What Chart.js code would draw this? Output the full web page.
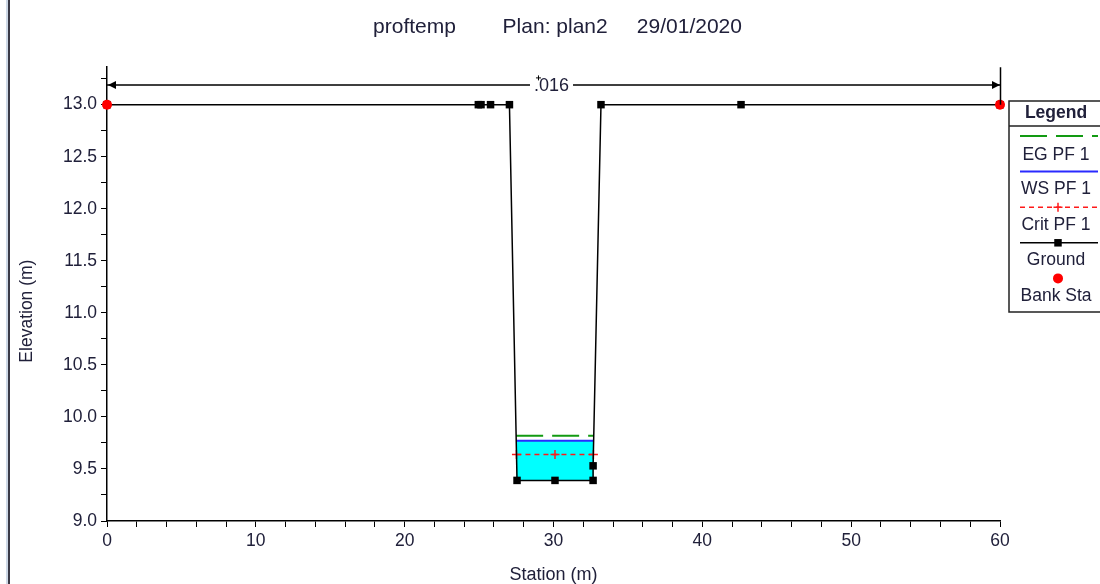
<!DOCTYPE html>
<html>
<head>
  <meta charset="UTF-8">
  <title>proftemp - Plan: plan2</title>
  <script src="https://cdn.jsdelivr.net/npm/chart.js"></script>
  <style>
    body { margin: 0; background: #fff; }
    #chart { display: block; }
  </style>
</head>
<body>
  <canvas id="chart" width="1100" height="584"></canvas>
  <script>
    // Datos de la sección transversal
    const groundSta = [0, 24.95, 25.13, 25.77, 27.04, 27.55, 30.1, 32.66, 32.66, 33.19, 42.6, 60];
    const groundElev = [13.0, 13.0, 13.0, 13.0, 13.0, 9.39, 9.39, 9.39, 9.53, 13.0, 13.0, 13.0];
    const bankSta = [0, 60];
    const bankElev = [13.0, 13.0];
    // Niveles del perfil PF 1
    const egSta = [27.49, 32.70];
    const egElev = [9.82, 9.82];
    const wsSta = [27.50, 32.70];
    const wsElev = [9.77, 9.77];
    const critSta = [27.51, 30.1, 32.68];
    const critElev = [9.64, 9.64, 9.64];
    // Valor de Manning sobre la sección
    const nSta = [0, 60];
    const nElev = 13.19;
    const nLabel = ['.016'];

    const chartTitle = 'proftemp        Plan: plan2     29/01/2020';
    const xTitle = 'Station (m)';
    const yTitle = 'Elevation (m)';
    const legendTitle = 'Legend';

    const textColor = '#20203a';
    const fontFamily = '"Liberation Sans", Arial, sans-serif';

    const toPoints = (xs, ys) => xs.map((x, i) => ({ x: x, y: ys[i] }));

    // Plugin para el marco, el título vertical, la línea de n y la leyenda
    const hecPlugin = {
      id: 'hecras',
      beforeDraw(chart) {
        const ctx = chart.ctx;
        ctx.save();
        ctx.fillStyle = '#fff';
        ctx.fillRect(0, 0, chart.width, chart.height);
        ctx.fillStyle = '#cdd8e6';
        ctx.fillRect(6, 0, 2, chart.height);
        ctx.fillStyle = '#3a3a46';
        ctx.fillRect(8, 0, 2, chart.height);
        ctx.restore();
      },
      afterDraw(chart) {
        const ctx = chart.ctx;
        const xs = chart.scales.x;
        const ys = chart.scales.y;
        const area = chart.chartArea;

        // título del eje Y
        ctx.save();
        ctx.translate(27, (area.top + area.bottom) / 2 + 17);
        ctx.rotate(-Math.PI / 2);
        ctx.font = '17.5px ' + fontFamily;
        ctx.fillStyle = textColor;
        ctx.textAlign = 'center';
        ctx.textBaseline = 'middle';
        ctx.fillText(yTitle, 0, 0);
        ctx.restore();

        // línea del valor n con flechas
        const y = ys.getPixelForValue(nElev);
        const x0 = xs.getPixelForValue(nSta[0]);
        const x1 = xs.getPixelForValue(nSta[1]);
        const yb = ys.getPixelForValue(groundElev[groundElev.length - 1]);
        ctx.save();
        ctx.strokeStyle = '#000';
        ctx.lineWidth = 1.5;
        ctx.beginPath();
        ctx.moveTo(x0, y);
        ctx.lineTo(x1, y);
        ctx.moveTo(x1 + 0.5, area.top);
        ctx.lineTo(x1 + 0.5, yb);
        ctx.stroke();
        ctx.fillStyle = '#000';
        ctx.beginPath();
        ctx.moveTo(x0 + 1, y);
        ctx.lineTo(x0 + 9, y - 4);
        ctx.lineTo(x0 + 9, y + 4);
        ctx.closePath();
        ctx.fill();
        ctx.beginPath();
        ctx.moveTo(x1, y);
        ctx.lineTo(x1 - 8, y - 4);
        ctx.lineTo(x1 - 8, y + 4);
        ctx.closePath();
        ctx.fill();
        ctx.font = '18px ' + fontFamily;
        const tw = ctx.measureText(nLabel[0]).width;
        const xm = (x0 + x1) / 2 - 2;
        ctx.fillStyle = '#fff';
        ctx.fillRect(xm - tw / 2 - 4, y - 6, tw + 8, 12);
        ctx.fillStyle = textColor;
        ctx.textAlign = 'center';
        ctx.textBaseline = 'middle';
        ctx.fillText(nLabel[0], xm, y + 1.5);
        // pequeña cruz sobre el punto
        ctx.beginPath();
        ctx.lineWidth = 1;
        ctx.moveTo(xm - tw / 2 + 2, y - 7);
        ctx.lineTo(xm - tw / 2 + 7, y - 7);
        ctx.moveTo(xm - tw / 2 + 4.5, y - 9.5);
        ctx.lineTo(xm - tw / 2 + 4.5, y - 4.5);
        ctx.stroke();
        ctx.restore();

        // leyenda
        const lx = 1009, ly = 101, lb = 312, cx = 1056;
        ctx.save();
        ctx.strokeStyle = '#222';
        ctx.lineWidth = 1.5;
        ctx.beginPath();
        ctx.moveTo(chart.width + 2, ly);
        ctx.lineTo(lx, ly);
        ctx.lineTo(lx, lb);
        ctx.lineTo(chart.width + 2, lb);
        ctx.moveTo(lx, 126);
        ctx.lineTo(chart.width + 2, 126);
        ctx.stroke();
        ctx.fillStyle = textColor;
        ctx.textAlign = 'center';
        ctx.textBaseline = 'middle';
        ctx.font = 'bold 17.5px ' + fontFamily;
        ctx.fillText(legendTitle, cx, 113);
        ctx.font = '17.5px ' + fontFamily;
        const order = [4, 3, 2, 1, 0];
        order.forEach((idx, i) => {
          const ds = chart.data.datasets[idx];
          const sy = 136 + i * 35.6;
          if (ds.showLine !== false) {
            ctx.save();
            ctx.strokeStyle = ds.borderColor;
            ctx.lineWidth = ds.borderWidth;
            ctx.setLineDash(ds.borderDash || []);
            ctx.beginPath();
            ctx.moveTo(1020, sy);
            ctx.lineTo(1098, sy);
            ctx.stroke();
            ctx.restore();
          }
          if (ds.pointRadius > 0) {
            ctx.save();
            ctx.fillStyle = ds.pointBackgroundColor;
            ctx.strokeStyle = ds.pointBorderColor;
            ctx.lineWidth = ds.pointBorderWidth;
            Chart.helpers.drawPoint(ctx, {
              pointStyle: ds.pointStyle, radius: ds.pointRadius,
              borderWidth: ds.pointBorderWidth, rotation: 0
            }, cx + 2, sy);
            ctx.restore();
          }
          ctx.fillStyle = textColor;
          ctx.fillText(ds.label, cx, sy + (i === 0 ? 19 : 17.5));
        });
        ctx.restore();
      }
    };

    new Chart(document.getElementById('chart'), {
      type: 'scatter',
      data: {
        datasets: [
          {
            label: 'Bank Sta',
            data: toPoints(bankSta, bankElev),
            showLine: false,
            pointStyle: 'circle',
            pointRadius: 5,
            pointBackgroundColor: '#ff0000',
            pointBorderColor: '#ff0000',
            pointBorderWidth: 0,
            clip: false
          },
          {
            label: 'Ground',
            data: toPoints(groundSta, groundElev),
            showLine: true,
            borderColor: '#000',
            borderWidth: 1.5,
            pointStyle: 'rect',
            pointRadius: 5.3,
            pointBackgroundColor: '#000',
            pointBorderColor: '#000',
            pointBorderWidth: 0,
            clip: false
          },
          {
            label: 'Crit PF 1',
            data: toPoints(critSta, critElev),
            showLine: true,
            borderColor: '#ff1a1a',
            borderWidth: 1.5,
            borderDash: [5, 4],
            pointStyle: 'cross',
            pointRadius: 4.5,
            pointBackgroundColor: '#ff1a1a',
            pointBorderColor: '#ff1a1a',
            pointBorderWidth: 1.5
          },
          {
            label: 'WS PF 1',
            data: toPoints(wsSta, wsElev),
            showLine: true,
            borderColor: '#2a2aff',
            borderWidth: 2,
            pointRadius: 0,
            fill: { value: Math.min(...groundElev) },
            backgroundColor: '#00ffff'
          },
          {
            label: 'EG PF 1',
            data: toPoints(egSta, egElev),
            showLine: true,
            borderColor: '#129a12',
            borderWidth: 2,
            borderDash: [27, 9],
            pointRadius: 0
          }
        ]
      },
      options: {
        responsive: false,
        animation: false,
        events: [],
        layout: { padding: { left: 15, right: 0, top: 0, bottom: 0 } },
        plugins: {
          legend: { display: false },
          tooltip: { enabled: false },
          title: {
            display: true,
            text: chartTitle,
            color: textColor,
            font: { family: fontFamily, size: 21, weight: 'normal' },
            padding: { top: 15, bottom: 27 }
          }
        },
        scales: {
          x: {
            type: 'linear',
            min: 0,
            max: 60,
            afterFit(scale) { scale.height = 63; },
            border: { color: '#000', width: 1.5 },
            grid: { drawOnChartArea: false, drawTicks: true, tickLength: 6, color: '#000' },
            ticks: {
              stepSize: 2,
              includeBounds: false,
              maxTicksLimit: 100,
              autoSkip: false,
              maxRotation: 0,
              padding: 4,
              color: textColor,
              font: { family: fontFamily, size: 17.5 },
              callback: (v) => (v % 10 === 0 ? String(v) : '')
            },
            title: {
              display: true,
              text: xTitle,
              color: textColor,
              font: { family: fontFamily, size: 18, lineHeight: 1 },
              padding: { top: 0, bottom: 0 }
            }
          },
          y: {
            type: 'linear',
            min: 9,
            max: 13.36,
            afterFit(scale) { scale.width = 92; },
            border: { color: '#000', width: 1.5 },
            grid: { drawOnChartArea: false, drawTicks: true, tickLength: 6, color: '#000' },
            ticks: {
              stepSize: 0.25,
              includeBounds: false,
              maxTicksLimit: 100,
              autoSkip: false,
              padding: 4,
              color: textColor,
              font: { family: fontFamily, size: 17.5 },
              callback: (v) => (Math.abs(v * 2 - Math.round(v * 2)) < 1e-6 ? v.toFixed(1) : '')
            }
          },
          // espacio reservado a la derecha para la leyenda
          legendSpace: {
            type: 'linear',
            position: 'right',
            afterFit(scale) { scale.width = 100; },
            border: { display: false },
            grid: { display: false },
            ticks: { display: false }
          }
        }
      },
      plugins: [hecPlugin]
    });
  </script>
</body>
</html>
